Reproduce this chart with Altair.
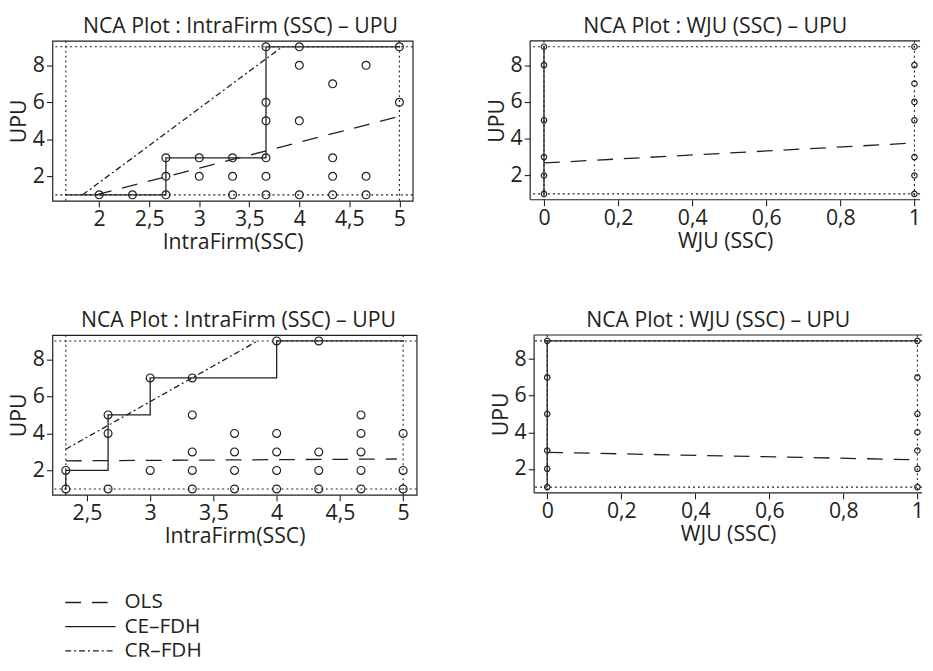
import altair as alt
import pandas as pd

FONT = "Open Sans"
INK = "#231f20"
FS = 21.5

METHODS = ["OLS", "CE–FDH", "CR–FDH"]
DASHES = [[16, 11], [1, 0], [6, 3, 2, 3]]

# ---------- Panel A: IntraFirm (SSC) – UPU (top) ----------
a_px = [2, 2.333, 2.667, 2.667, 2.667, 3, 3, 3.333, 3.333, 3.333, 3.667, 3.667, 3.667,
        3.667, 3.667, 3.667, 4, 4, 4, 4, 4.333, 4.333, 4.333, 4.333, 4.667, 4.667, 4.667, 5, 5]
a_py = [1, 1, 1, 2, 3, 3, 2, 3, 2, 1, 9, 6, 5, 3, 2, 1, 9, 8, 5, 1, 7, 3, 2, 1, 8, 2, 1, 9, 6]
a_ce_x = [1.667, 2.667, 2.667, 3.667, 3.667, 5]
a_ce_y = [1, 1, 3, 3, 9, 9]
a_cr_x = [1.835, 3.83]
a_cr_y = [1, 9]
a_ols_x = [1.97, 5]
a_ols_y = [1.0, 5.24]
a_scope_x = [1.667, 5]
a_scope_y = [1, 9]
a_xdom = [1.533, 5.133]
a_xticks = [2, 2.5, 3, 3.5, 4, 4.5, 5]

# ---------- Panel B: WJU (SSC) – UPU (top) ----------
b_px = [0, 0, 0, 0, 0, 0, 1, 1, 1, 1, 1, 1, 1, 1]
b_py = [9, 8, 5, 3, 2, 1, 9, 8, 7, 6, 5, 3, 2, 1]
b_ce_x = [0, 0]
b_ce_y = [1, 9]
b_cr_x = []
b_cr_y = []
b_ols_x = [0, 0.985]
b_ols_y = [2.68, 3.75]
b_scope_x = [0, 1]
b_scope_y = [1, 9]
b_xdom = [-0.0373, 1.0152]
b_xticks = [0, 0.2, 0.4, 0.6, 0.8, 1]

# ---------- Panel C: IntraFirm (SSC) – UPU (bottom) ----------
c_px = [2.333, 2.333, 2.667, 2.667, 2.667, 3, 3, 3.333, 3.333, 3.333, 3.333, 3.333,
        3.667, 3.667, 3.667, 3.667, 4, 4, 4, 4, 4, 4.333, 4.333, 4.333, 4.333,
        4.667, 4.667, 4.667, 4.667, 4.667, 5, 5, 5]
c_py = [2, 1, 5, 4, 1, 7, 2, 7, 5, 3, 2, 1, 4, 3, 2, 1, 9, 4, 3, 2, 1, 9, 3, 2, 1,
        5, 4, 3, 2, 1, 4, 2, 1]
c_ce_x = [2.333, 2.333, 2.667, 2.667, 3, 3, 4, 4, 5]
c_ce_y = [1, 2, 2, 5, 5, 7, 7, 9, 9]
c_cr_x = [2.333, 3.85]
c_cr_y = [3.15, 9]
c_ols_x = [2.333, 4.95]
c_ols_y = [2.52, 2.62]
c_scope_x = [2.333, 5]
c_scope_y = [1, 9]
c_xdom = [2.227, 5.107]
c_xticks = [2.5, 3, 3.5, 4, 4.5, 5]

# ---------- Panel D: WJU (SSC) – UPU (bottom) ----------
d_px = [0, 0, 0, 0, 0, 0, 1, 1, 1, 1, 1, 1, 1]
d_py = [9, 7, 5, 3, 2, 1, 9, 7, 5, 4, 3, 2, 1]
d_ce_x = [0, 0, 1]
d_ce_y = [1, 9, 9]
d_cr_x = []
d_cr_y = []
d_ols_x = [0, 0.985]
d_ols_y = [2.9, 2.5]
d_scope_x = [0, 1]
d_scope_y = [1, 9]
d_xdom = [-0.0354, 1.0125]
d_xticks = [0, 0.2, 0.4, 0.6, 0.8, 1]

Y_DOM = [0.68, 9.32]
Y_TICKS = [2, 4, 6, 8]
TITLE_A = "NCA Plot : IntraFirm (SSC) – UPU"
TITLE_B = "NCA Plot : WJU (SSC) – UPU"

dash_scale = alt.Scale(domain=METHODS, range=DASHES)
LABEL_EXPR = "replace(format(datum.value, '~g'), '.', ',')"
ONE = pd.DataFrame({"k": [0]})
NO_FRAME = alt.ViewBackground(stroke="transparent")


def panel(px, py, ce_x, ce_y, cr_x, cr_y, ols_x, ols_y, scope_x, scope_y,
          xdom, xticks, xtitle, title, w, h, psize, tdx, open_right=False):
    xs = alt.Scale(domain=xdom, nice=False, zero=False)
    ys = alt.Scale(domain=Y_DOM, nice=False, zero=False)
    xax = alt.Axis(values=xticks, labelExpr=LABEL_EXPR, title=xtitle)
    yax = alt.Axis(values=Y_TICKS, title="UPU")

    pts = pd.DataFrame({"x": px, "y": py})
    rows = []
    for name, lx, ly in [("OLS", ols_x, ols_y), ("CE–FDH", ce_x, ce_y), ("CR–FDH", cr_x, cr_y)]:
        for i, (xv, yv) in enumerate(zip(lx, ly)):
            rows.append({"x": xv, "y": yv, "method": name, "i": i})
    lines_df = pd.DataFrame(rows)

    hs = alt.Chart(pd.DataFrame({"y": scope_y})).mark_rule(
        color=INK, strokeDash=[2, 3], strokeWidth=1.1
    ).encode(y=alt.Y("y:Q", scale=ys, axis=yax))
    vs = alt.Chart(pd.DataFrame({"x": scope_x})).mark_rule(
        color=INK, strokeDash=[2, 3], strokeWidth=1.1
    ).encode(x=alt.X("x:Q", scale=xs, axis=xax))
    ln = alt.Chart(lines_df).mark_line(color=INK, strokeWidth=1.3).encode(
        x=alt.X("x:Q", scale=xs, axis=xax),
        y=alt.Y("y:Q", scale=ys, axis=yax),
        strokeDash=alt.StrokeDash("method:N", scale=dash_scale, legend=None),
        order="i:Q",
    )
    pt = alt.Chart(pts).mark_point(shape="circle", filled=False, color=INK,
                                   strokeWidth=1.2, size=psize, opacity=1).encode(
        x=alt.X("x:Q", scale=xs, axis=xax),
        y=alt.Y("y:Q", scale=ys, axis=yax),
    )
    layers = [hs, vs, ln, pt]
    ttl = alt.TitleParams(text=title, dx=tdx)
    if open_right:
        # frame on three sides only: the plot runs off the right edge of the page
        fr = dict(color=INK, strokeWidth=1.2)
        layers += [
            alt.Chart(ONE).mark_rule(**fr).encode(x=alt.value(0), x2=alt.value(w), y=alt.value(0)),
            alt.Chart(ONE).mark_rule(**fr).encode(x=alt.value(0), x2=alt.value(w), y=alt.value(h)),
            alt.Chart(ONE).mark_rule(**fr).encode(x=alt.value(0), y=alt.value(0), y2=alt.value(h)),
        ]
        return alt.layer(*layers).properties(width=w, height=h, title=ttl, view=NO_FRAME)
    return alt.layer(*layers).properties(width=w, height=h, title=ttl)


pa = panel(a_px, a_py, a_ce_x, a_ce_y, a_cr_x, a_cr_y, a_ols_x, a_ols_y, a_scope_x,
           a_scope_y, a_xdom, a_xticks, "IntraFirm(SSC)", TITLE_A, 365, 162, 64, 8)
pb = panel(b_px, b_py, b_ce_x, b_ce_y, b_cr_x, b_cr_y, b_ols_x, b_ols_y, b_scope_x,
           b_scope_y, b_xdom, b_xticks, "WJU (SSC)", TITLE_B, 395, 161, 30, -10, True)
pc = panel(c_px, c_py, c_ce_x, c_ce_y, c_cr_x, c_cr_y, c_ols_x, c_ols_y, c_scope_x,
           c_scope_y, c_xdom, c_xticks, "IntraFirm(SSC)", TITLE_A, 369, 162, 64, 4)
pd_ = panel(d_px, d_py, d_ce_x, d_ce_y, d_cr_x, d_cr_y, d_ols_x, d_ols_y, d_scope_x,
            d_scope_y, d_xdom, d_xticks, "WJU (SSC)", TITLE_B, 393, 160, 30, -10, True)

# ---------- key (line styles) ----------
key_df = pd.DataFrame({"method": METHODS})
key_y = alt.Y("method:N", scale=alt.Scale(type="point", domain=METHODS, range=[46, 95], padding=0),
              axis=None)
key_lines = alt.Chart(key_df).mark_rule(color=INK, strokeWidth=1.3, clip=True).encode(
    x=alt.value(13), x2=alt.value(64), y=key_y,
    strokeDash=alt.StrokeDash("method:N", scale=dash_scale, legend=None),
)
key_text = alt.Chart(key_df).mark_text(
    align="left", baseline="middle", font=FONT, fontSize=21, color=INK, clip=True
).encode(x=alt.value(73), y=key_y, text="method:N")
key = alt.layer(key_lines, key_text).properties(width=300, height=101, view=NO_FRAME)

top = alt.hconcat(pa, pb, spacing=72)
bottom = alt.hconcat(pc, pd_, spacing=72)
grid = alt.vconcat(top, bottom, spacing=56)

chart = alt.vconcat(grid, key, spacing=8).properties(
    padding={"left": 0, "top": 3, "right": 0, "bottom": 0}
).configure(
    font=FONT,
).configure_view(
    stroke=INK, strokeWidth=1.2,
).configure_axis(
    grid=False, domain=False, tickColor=INK, tickSize=6, tickWidth=1.1,
    labelFontSize=FS, titleFontSize=FS, labelFont=FONT, titleFont=FONT,
    labelColor=INK, titleColor=INK, titleFontWeight="normal", labelPadding=2,
    titlePadding=2,
).configure_title(
    fontSize=FS, font=FONT, fontWeight="normal", color=INK, offset=3,
)

chart.save("out.html", embed_options={"renderer": "svg", "actions": False})
